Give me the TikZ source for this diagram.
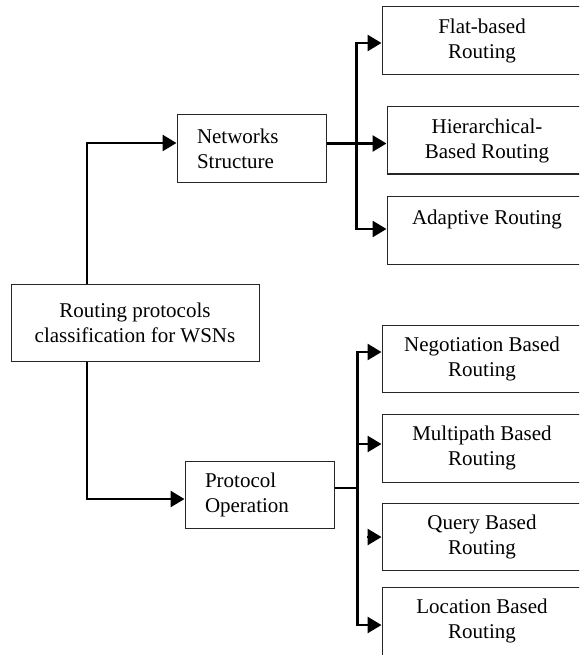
\documentclass[tikz,border=0pt]{standalone}
\usepackage{fontspec}
\setmainfont{Liberation Serif}
\usetikzlibrary{arrows.meta}
\begin{document}
\begin{tikzpicture}[x=1pt,y=-1pt,
  box/.style={draw=black!85,line width=1pt,inner sep=0pt,align=center,
    font=\fontsize{21}{25}\selectfont},
  lbox/.style={draw=black!85,line width=1pt,inner ysep=0pt,inner xsep=20pt,
    text width=109pt,align=left,font=\fontsize{21}{25}\selectfont},
  conn/.style={line width=2.6pt,draw=black},
  arr/.style={conn,-{Triangle[length=14pt,width=16pt]}}]
\clip (0,0) rectangle (579,655);
\fill[white] (0,0) rectangle (579,655);
% nodes
\node[box,minimum width=248pt,minimum height=77pt] (main) at (135,322.5) {Routing protocols\\classification for WSNs};
\node[lbox,minimum height=67pt] (net) at (251.5,148.5) {Networks\\Structure};
\node[lbox,minimum height=67pt] (proto) at (259.5,494.5) {Protocol\\Operation};
\node[box,minimum width=200pt,minimum height=68pt] (flat) at (482,41) {Flat-based\\Routing};
\node[box,minimum width=200pt,minimum height=67pt] (hier) at (487,140.5) {Hierarchical-\\Based Routing};
\node[box,minimum width=200pt,minimum height=68pt] (adapt) at (487,230) {Adaptive Routing\\~};
\node[box,minimum width=200pt,minimum height=67pt] (neg) at (482,358.5) {Negotiation Based\\Routing};
\node[box,minimum width=200pt,minimum height=68pt] (multi) at (482,448) {Multipath Based\\Routing};
\node[box,minimum width=200pt,minimum height=67pt] (query) at (482,536.5) {Query Based\\Routing};
\node[box,minimum width=200pt,minimum height=68pt] (loc) at (482,621) {Location Based\\Routing};
% connectors: upper branch
\draw[arr] ([xshift=-48pt]main.north) |- ([yshift=5.5pt]net.west);
\draw[arr] ([yshift=5pt]net.east) -- ([yshift=-3pt]hier.west);
\draw[arr] ([yshift=5pt]net.east) -- ++(30,0) |- ([yshift=-2pt]flat.west);
\draw[arr] ([yshift=5pt]net.east) -- ++(30,0) |- ([yshift=1pt]adapt.west);
% connectors: lower branch
\draw[arr] ([xshift=-48pt]main.south) |- ([yshift=-4.5pt]proto.west);
\draw[arr] ([yshift=6.5pt]proto.east) -- ++(23,0) |- ([yshift=6.5pt]neg.west);
\draw[arr] ([yshift=6.5pt]proto.east) -- ++(23,0) |- ([yshift=4pt]multi.west);
\draw[arr] ([yshift=6.5pt]proto.east) -- ++(23,0) |- ([yshift=-4pt]loc.west);
\draw[arr] ([xshift=-15pt,yshift=-0.5pt]query.west) -- ([yshift=-0.5pt]query.west);
\end{tikzpicture}
\end{document}
